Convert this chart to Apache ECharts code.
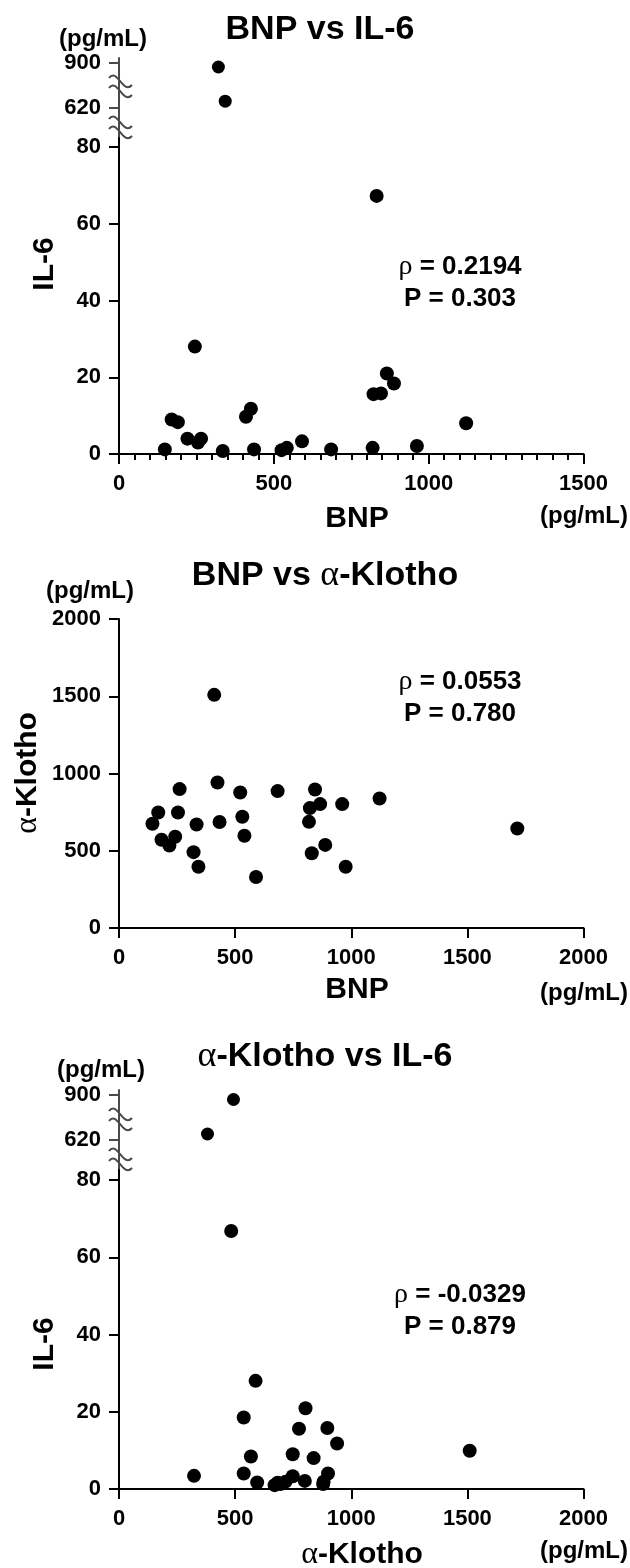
<!DOCTYPE html>
<html>
<head>
<meta charset="utf-8">
<script src="https://cdn.jsdelivr.net/npm/echarts@6/dist/echarts.min.js"></script>
<style>
  html, body { margin: 0; padding: 0; background: #fff; }
  #chart { width: 630px; height: 1568px; }
</style>
</head>
<body>
<div id="chart"></div>
<script>
// BNP vs IL-6
const bnp1 = [148, 170, 190, 221, 245, 255, 265, 335, 410, 426, 436, 525, 542, 591, 685, 819, 822, 846, 832, 865, 888, 962, 1121, 321, 343]
const il6_1 = [1.2, 9.0, 8.3, 4.0, 28.0, 3.0, 4.0, 0.8, 9.7, 11.8, 1.2, 1.0, 1.6, 3.3, 1.2, 1.6, 15.6, 15.8, 67.3, 21.0, 18.4, 2.1, 8.0, 891, 632]

// BNP vs α-Klotho
const bnp2 = [410, 424, 261, 522, 683, 844, 1122, 169, 254, 144, 334, 433, 531, 822, 866, 961, 818, 1715, 183, 217, 242, 540, 321, 830, 888, 342, 976, 590]
const klotho2 = [1509, 942, 899, 877, 886, 896, 838, 748, 748, 675, 670, 686, 720, 776, 802, 802, 687, 644, 571, 534, 591, 597, 491, 484, 538, 396, 396, 330]

// α-Klotho vs IL-6
const klotho3 = [483, 588, 803, 537, 775, 897, 939, 1510, 568, 748, 838, 323, 537, 595, 670, 683, 695, 717, 748, 800, 879, 900, 881, 493, 381]
const il6_3 = [66.8, 28.0, 20.9, 18.5, 15.6, 15.8, 11.8, 9.9, 8.4, 9.0, 8.0, 3.4, 4.0, 1.7, 1.0, 1.6, 1.3, 1.9, 3.3, 2.1, 1.3, 4.0, 1.9, 891, 632]

// tick labels
const il6Ticks = [0, 20, 40, 60, 80]
const il6MidTicks = [620]
const il6TopTicks = [900]
const klothoTicks = [0, 500, 1000, 1500, 2000]

const stats = [
  { rho: '0.2194', p: '0.303' },
  { rho: '0.0553', p: '0.780' },
  { rho: '-0.0329', p: '0.879' },
]

const SANS = '"Liberation Sans", Arial, Helvetica, sans-serif'
const SERIF = '"Liberation Serif", "DejaVu Serif", serif'
const AXIS_X = 119
const PLOT_W = 464.5
const BREAK_COLOR = '#4a4a4a'

const grids = []
const xAxes = []
const yAxes = []
const series = []
const graphics = []

const labelStyle = {
  color: '#000',
  fontSize: 22,
  fontWeight: 'bold',
  fontFamily: SANS,
  formatter: (v) => String(v),
}

// one panel = one or more stacked segments sharing the x axis
const addPanel = (xs, ys, xMax, minor, segs) => {
  segs.forEach((seg, i) => {
    const g = grids.length
    const color = i === 0 ? '#000' : BREAK_COLOR
    grids.push({ left: AXIS_X, top: seg.top, width: PLOT_W, height: seg.height })
    xAxes.push({
      type: 'value',
      gridIndex: g,
      min: 0,
      max: xMax,
      interval: 500,
      show: i === 0,
      axisLine: { show: true, onZero: false, lineStyle: { color: '#000', width: 2 } },
      axisTick: { show: true, length: 10, lineStyle: { color: '#000', width: 2 } },
      minorTick: { show: minor, splitNumber: 10, length: 6, lineStyle: { color: '#000', width: 2 } },
      axisLabel: { ...labelStyle, margin: 19 },
      splitLine: { show: false },
      minorSplitLine: { show: false },
    })
    yAxes.push({
      type: 'value',
      gridIndex: g,
      min: seg.min,
      max: seg.max,
      axisLine: { show: true, onZero: false, lineStyle: { color, width: 2 } },
      axisTick: { show: true, length: 10, customValues: seg.ticks, lineStyle: { color, width: 2 } },
      axisLabel: { ...labelStyle, margin: 18, customValues: seg.ticks },
      splitLine: { show: false },
    })
    const data = []
    xs.forEach((x, k) => {
      if (ys[k] >= seg.min && ys[k] <= seg.max) data.push([x, ys[k]])
    })
    series.push({
      type: 'scatter',
      xAxisIndex: g,
      yAxisIndex: g,
      data,
      clip: false,
      symbol: 'circle',
      symbolSize: i === 0 ? 14 : 13,
      itemStyle: { color: '#000', opacity: 1 },
      emphasis: { disabled: true },
    })
  })
  // break marks between segments
  for (let i = 1; i < segs.length; i++) {
    const gapBottom = segs[i - 1].top
    const gapTop = segs[i].top + segs[i].height
    graphics.push({
      type: 'line',
      shape: { x1: AXIS_X, y1: gapTop, x2: AXIS_X, y2: gapBottom },
      style: { stroke: BREAK_COLOR, lineWidth: 2 },
    })
    ;[gapTop + 5, gapBottom - 5].forEach((yc) => {
      graphics.push({
        type: 'bezierCurve',
        shape: {
          x1: AXIS_X - 10, y1: yc - 4,
          cpx1: AXIS_X - 2, cpy1: yc - 15,
          cpx2: AXIS_X + 4, cpy2: yc + 13,
          x2: AXIS_X + 13, y2: yc + 3,
        },
        style: { stroke: BREAK_COLOR, lineWidth: 2, fill: null },
      })
    })
  }
}

addPanel(bnp1, il6_1, 1500, true, [
  { top: 138, height: 316, min: 0, max: 82.4, ticks: il6Ticks },
  { top: 97, height: 21, min: 600, max: 640, ticks: il6MidTicks },
  { top: 58, height: 19, min: 870, max: 910, ticks: il6TopTicks },
])
addPanel(bnp2, klotho2, 2000, false, [
  { top: 619, height: 309, min: 0, max: 2000, ticks: klothoTicks },
])
addPanel(klotho3, il6_3, 2000, false, [
  { top: 1170, height: 319, min: 0, max: 82.6, ticks: il6Ticks },
  { top: 1130, height: 20, min: 600, max: 640, ticks: il6MidTicks },
  { top: 1090, height: 20, min: 870, max: 910, ticks: il6TopTicks },
])

// texts
const rich = (size) => ({
  g: { fontFamily: SERIF, fontWeight: 'normal', fontSize: size + 2, fill: '#000' },
  b: { fontFamily: SANS, fontWeight: 'bold', fontSize: size, fill: '#000' },
})
const text = (str, x, y, size, rotate) => ({
  type: 'text',
  x,
  y,
  rotation: rotate ? Math.PI / 2 : 0,
  style: {
    text: str,
    rich: rich(size),
    fontFamily: SANS,
    fontWeight: 'bold',
    fontSize: size,
    fill: '#000',
    align: 'center',
    verticalAlign: 'middle',
  },
})

graphics.push(
  text('{b|BNP vs IL-6}', 320, 30, 34),
  text('{b|BNP vs }{g|α}{b|-Klotho}', 325, 576, 34),
  text('{g|α}{b|-Klotho vs IL-6}', 325, 1057, 34),

  text('{b|(pg/mL)}', 103, 39, 24),
  text('{b|(pg/mL)}', 90, 591, 24),
  text('{b|(pg/mL)}', 101, 1070, 24),

  text('{b|(pg/mL)}', 584, 516, 24),
  text('{b|(pg/mL)}', 584, 993, 24),
  text('{b|(pg/mL)}', 584, 1551, 24),

  text('{b|BNP}', 357, 519, 30),
  text('{b|BNP}', 357, 990, 30),
  text('{g|α}{b|-Klotho}', 362, 1555, 30),

  text('{b|IL-6}', 45, 264, 30, true),
  text('{g|α}{b|-Klotho}', 28, 773, 30, true),
  text('{b|IL-6}', 45, 1344, 30, true)
)

const statY = [267, 682, 1295]
stats.forEach((s, i) => {
  graphics.push(
    text(`{g|ρ}{b| = ${s.rho}}`, 460, statY[i], 26),
    text(`{b|P = ${s.p}}`, 460, statY[i] + 32, 26)
  )
})

const myChart = echarts.init(document.getElementById('chart'))
const option = {
  animation: false,
  backgroundColor: '#fff',
  grid: grids,
  xAxis: xAxes,
  yAxis: yAxes,
  series,
  graphic: graphics,
}
myChart.setOption(option)
</script>
</body>
</html>
